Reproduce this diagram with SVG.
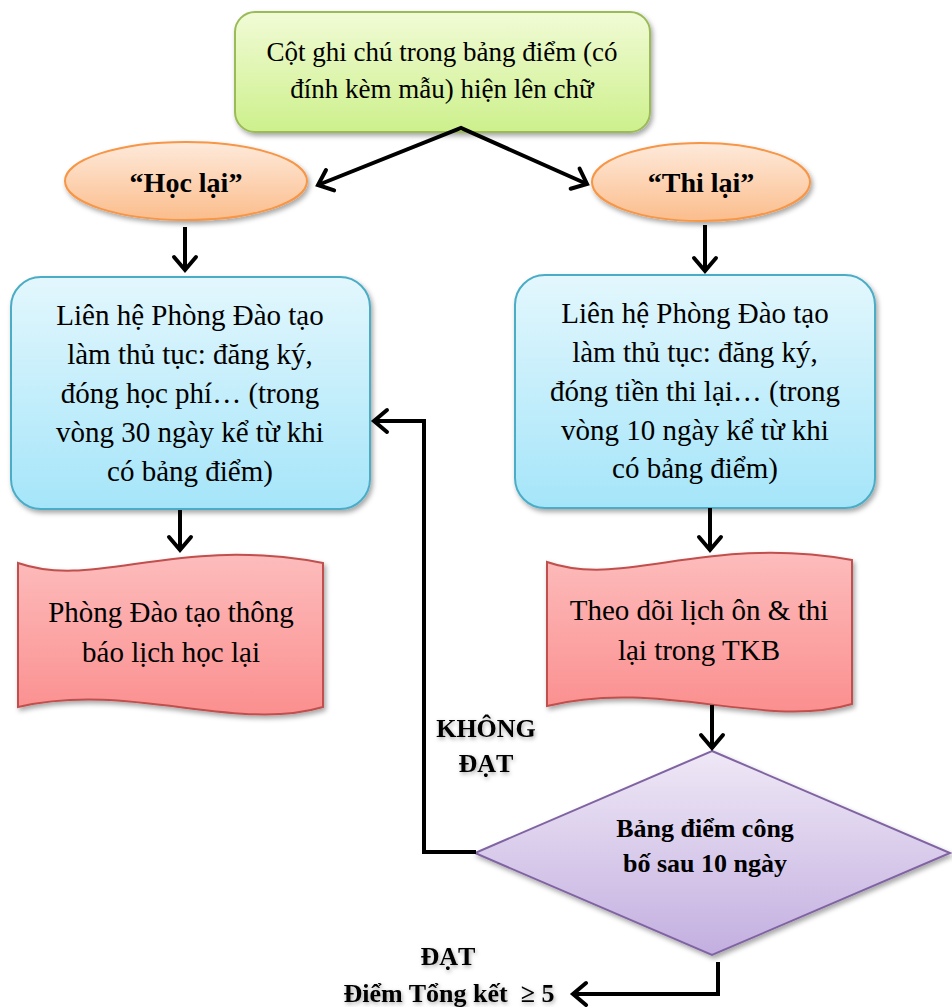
<svg xmlns="http://www.w3.org/2000/svg" width="952" height="1007" viewBox="0 0 952 1007">
<defs>
<linearGradient id="gGreen" x1="0" y1="0" x2="0" y2="1"><stop offset="0" stop-color="#f1fbd6"/><stop offset="1" stop-color="#cdf08c"/></linearGradient>
<linearGradient id="gOrange" x1="0" y1="0" x2="0" y2="1"><stop offset="0" stop-color="#feeadb"/><stop offset="1" stop-color="#fbbd8c"/></linearGradient>
<linearGradient id="gBlue" x1="0" y1="0" x2="0" y2="1"><stop offset="0" stop-color="#e3f7fd"/><stop offset="1" stop-color="#a5e5f9"/></linearGradient>
<linearGradient id="gPink" x1="0" y1="0" x2="0" y2="1"><stop offset="0" stop-color="#fdbcbc"/><stop offset="1" stop-color="#fb8f8f"/></linearGradient>
<linearGradient id="gPurple" x1="0" y1="0" x2="0" y2="1"><stop offset="0" stop-color="#efe8f6"/><stop offset="1" stop-color="#c3afe0"/></linearGradient>
<filter id="shadow" x="-10%" y="-10%" width="125%" height="130%"><feDropShadow dx="2" dy="3" stdDeviation="2.5" flood-color="#000" flood-opacity="0.35"/></filter>
<filter id="tshadow" x="-20%" y="-30%" width="140%" height="160%"><feDropShadow dx="1" dy="2" stdDeviation="2" flood-color="#000" flood-opacity="0.35"/></filter>
<marker id="arr" markerUnits="userSpaceOnUse" markerWidth="30" markerHeight="30" viewBox="-16 -15 20 30" refX="0" refY="0" orient="auto">
<path d="M-13,-11 L0,0 L-13,11" fill="none" stroke="#000" stroke-width="4" stroke-linecap="round" stroke-linejoin="miter"/>
</marker>
<marker id="arrS" markerUnits="userSpaceOnUse" markerWidth="30" markerHeight="30" viewBox="-16 -15 20 30" refX="0" refY="0" orient="auto-start-reverse">
<path d="M-13,-11 L0,0 L-13,11" fill="none" stroke="#000" stroke-width="4" stroke-linecap="round" stroke-linejoin="miter"/>
</marker>
<style>
.t{font-family:"Liberation Serif","Times New Roman",serif;fill:#000;text-anchor:middle;white-space:pre}
.r27{font-size:27px}
.r29{font-size:29px}
.b26{font-size:26px;font-weight:bold}
.b28{font-size:28px;font-weight:bold}
.c{fill:none;stroke:#000;stroke-width:4;stroke-linejoin:miter}
</style>
</defs>

<g id="n_top">
<rect x="235" y="12" width="415" height="120" rx="20" fill="url(#gGreen)" stroke="#9bbb59" stroke-width="2" filter="url(#shadow)"/>
<text class="t r27" x="442" y="61">Cột ghi chú trong bảng điểm (có</text>
<text class="t r27" x="442" y="98">đính kèm mẫu) hiện lên chữ</text>
</g>

<g id="n_hoclai">
<ellipse cx="186" cy="181" rx="121" ry="39" fill="url(#gOrange)" stroke="#f79646" stroke-width="2" filter="url(#shadow)"/>
<text class="t b28" x="186" y="192">“Học lại”</text>
</g>

<g id="n_thilai">
<ellipse cx="701" cy="182" rx="109" ry="39" fill="url(#gOrange)" stroke="#f79646" stroke-width="2" filter="url(#shadow)"/>
<text class="t b28" x="701" y="192">“Thi lại”</text>
</g>

<g id="n_lienhe1">
<rect x="11" y="277" width="359" height="232" rx="30" fill="url(#gBlue)" stroke="#4bacc6" stroke-width="2" filter="url(#shadow)"/>
<text class="t r29" x="190" y="325">Liên hệ Phòng Đào tạo</text>
<text class="t r29" x="190" y="364">làm thủ tục: đăng ký,</text>
<text class="t r29" x="190" y="403">đóng học phí… (trong</text>
<text class="t r29" x="190" y="442">vòng 30 ngày kể từ khi</text>
<text class="t r29" x="190" y="481">có bảng điểm)</text>
</g>

<g id="n_lienhe2">
<rect x="515" y="275" width="360" height="233" rx="30" fill="url(#gBlue)" stroke="#4bacc6" stroke-width="2" filter="url(#shadow)"/>
<text class="t r29" x="695" y="323">Liên hệ Phòng Đào tạo</text>
<text class="t r29" x="695" y="362">làm thủ tục: đăng ký,</text>
<text class="t r29" x="695" y="401">đóng tiền thi lại… (trong</text>
<text class="t r29" x="695" y="440">vòng 10 ngày kể từ khi</text>
<text class="t r29" x="695" y="478">có bảng điểm)</text>
</g>

<g id="n_thongbao">
<path d="M18,563 C 95,590 175,535 323,563 L323,707 C 235,733 130,681 18,707 Z" fill="url(#gPink)" stroke="#c0504d" stroke-width="2" filter="url(#shadow)"/>
<text class="t r29" x="171" y="622">Phòng Đào tạo thông</text>
<text class="t r29" x="171" y="662">báo lịch học lại</text>
</g>

<g id="n_theodoi">
<path d="M547,562 C 624,589 705,534 852,560 L852,704 C 765,730 660,678 547,706 Z" fill="url(#gPink)" stroke="#c0504d" stroke-width="2" filter="url(#shadow)"/>
<text class="t r29" x="699" y="620">Theo dõi lịch ôn &amp; thi</text>
<text class="t r29" x="699" y="660">lại trong TKB</text>
</g>

<g id="n_bangdiem">
<polygon points="712,751 950,853 712,955 475,853" fill="url(#gPurple)" stroke="#8064a2" stroke-width="2" filter="url(#shadow)"/>
<text class="t b26" x="705" y="837">Bảng điểm công</text>
<text class="t b26" x="705" y="872">bố sau 10 ngày</text>
</g>

<g id="l_khongdat" filter="url(#tshadow)">
<text class="t b26" x="486" y="737">KHÔNG</text>
<text class="t b26" x="486" y="772">ĐẠT</text>
</g>

<g id="l_dat" filter="url(#tshadow)">
<text class="t b26" x="448" y="965">ĐẠT</text>
<text class="t b26" x="449" y="1002">Điểm Tổng kết  ≥ 5</text>
</g>

<g id="connectors">
<path class="c" d="M318,185 L461,128 L587,184" marker-start="url(#arrS)" marker-end="url(#arr)"/>
<path class="c" d="M185,227 L185,270" marker-end="url(#arr)"/>
<path class="c" d="M705,225 L705,271" marker-end="url(#arr)"/>
<path class="c" d="M180,510 L180,550" marker-end="url(#arr)"/>
<path class="c" d="M710,508 L710,550" marker-end="url(#arr)"/>
<path class="c" d="M712,705 L712,748" marker-end="url(#arr)"/>
<path class="c" d="M476,852 L424,852 L424,421 L374,421" marker-end="url(#arr)"/>
<path class="c" d="M718,962 L718,994 L573,994" marker-end="url(#arr)"/>
</g>
</svg>
